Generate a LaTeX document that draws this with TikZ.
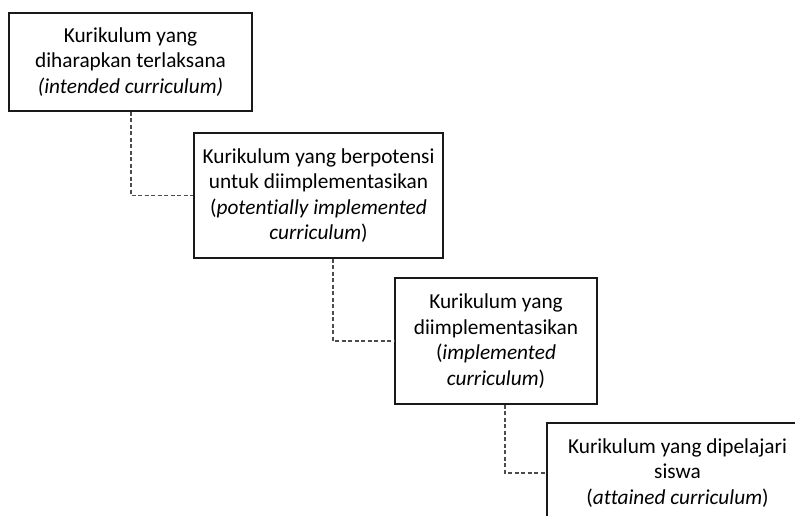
\documentclass[tikz,border=0pt]{standalone}
\usepackage{fontspec}
\setmainfont{Carlito}[Ligatures=NoCommon]
\begin{document}
\begin{tikzpicture}[x=1pt,y=-1pt,
  box/.style={draw=black!90, line width=1.2pt, fill=white, inner sep=0pt, align=center,
    font=\fontsize{21.3}{25.5}\selectfont},
  conn/.style={draw=black!70, line width=1.2pt, dash pattern=on 4pt off 2.5pt}]
\useasboundingbox (0,0) rectangle (795,516);
\clip (0,0) rectangle (795,516);
\node[box, minimum width=243pt, minimum height=98pt] (n1) at (130.5,62)
  {Kurikulum yang\\diharapkan terlaksana\\\textit{(intended curriculum)}};
\node[box, minimum width=249pt, minimum height=125pt] (n2) at (318.5,195.5)
  {Kurikulum yang berpotensi\\untuk diimplementasikan\\(\textit{potentially implemented}\\\textit{curriculum})};
\node[box, minimum width=202pt, minimum height=126pt] (n3) at (496,341)
  {Kurikulum yang\\diimplementasikan\\(\textit{implemented}\\\textit{curriculum})};
\node[box, minimum width=261pt, minimum height=100pt] (n4) at (677.5,473)
  {Kurikulum yang dipelajari\\siswa\\(\textit{attained curriculum})};
\draw[conn] ([xshift=0.5pt]n1.south) |- (n2.west);
\draw[conn] ([xshift=14.5pt]n2.south) |- (n3.west);
\draw[conn] ([xshift=9pt]n3.south) |- (n4.west);
\end{tikzpicture}
\end{document}
